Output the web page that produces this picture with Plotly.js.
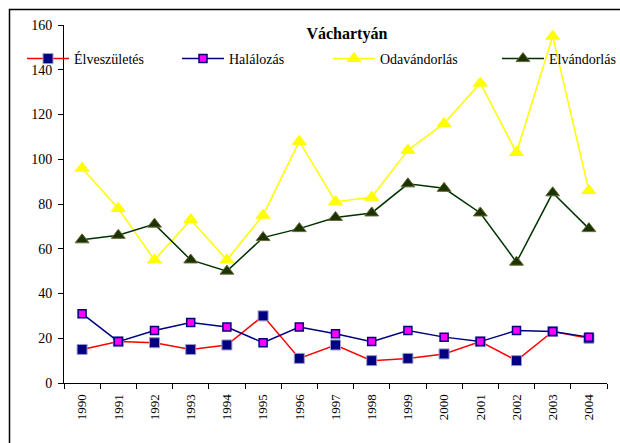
<!DOCTYPE html>
<html>
<head>
<meta charset="utf-8">
<script src="https://cdn.plot.ly/plotly-3.0.1.min.js"></script>
<style>html,body{margin:0;padding:0;background:#fff;overflow:hidden}#chart{width:620px;height:443px}</style>
</head>
<body>
<div id="chart"></div>
<script>
var years = ["1990","1991","1992","1993","1994","1995","1996","1997","1998","1999","2000","2001","2002","2003","2004"];
var elveszuletes = [15, 18.5, 18, 15, 17, 30, 11, 17, 10, 11, 13, 18.5, 10, 23, 20];
var halalozas = [31, 18.5, 23.5, 27, 25, 18, 25, 22, 18.5, 23.5, 20.5, 18.5, 23.5, 23, 20.5];
var odavandorlas = [96, 78, 55, 73, 55, 75, 108, 81, 83, 104, 116, 134, 103, 155, 86];
var elvandorlas = [64, 66, 71, 55, 50, 65, 69, 74, 76, 89, 87, 76, 54, 85, 69];
var seriesNames = ["Élveszületés", "Halálozás", "Odavándorlás", "Elvándorlás"];

var serif = "Liberation Serif";
var W = 620, H = 443, L = 64, R = 13, T = 25, B = 60;
var pw = W - L - R, ph = H - T - B;
function px2x(p){ return (p - L) / pw; }
function py2y(p){ return (H - B - p) / ph; }

var traces = [
  {x: years, y: elveszuletes, name: seriesNames[0], type: "scatter", mode: "lines+markers",
   line: {color: "#ff0000", width: 1.5},
   marker: {symbol: "square", size: 10, color: "#000080", line: {color: "#9999cc", width: 1}},
   legend: "legend"},
  {x: years, y: halalozas, name: seriesNames[1], type: "scatter", mode: "lines+markers",
   line: {color: "#000080", width: 1.5},
   marker: {symbol: "square", size: 8, color: "#ff00ff", line: {color: "#000080", width: 1.5}},
   legend: "legend2"},
  {x: years, y: odavandorlas, name: seriesNames[2], type: "scatter", mode: "lines+markers",
   line: {color: "#ffff00", width: 1.5},
   marker: {symbol: "triangle-up", size: 12, color: "#ffff00", line: {color: "#ffff00", width: 1}},
   legend: "legend3"},
  {x: years, y: elvandorlas, name: seriesNames[3], type: "scatter", mode: "lines+markers",
   line: {color: "#003300", width: 1.5},
   marker: {symbol: "triangle-up", size: 12, color: "#1a3300", line: {color: "#666633", width: 1}},
   legend: "legend4"}
];

function leg(pxLeft){
  return {x: px2x(pxLeft), xanchor: "left", y: py2y(59), yanchor: "middle",
          orientation: "h", bgcolor: "rgba(0,0,0,0)", borderwidth: 0,
          font: {family: serif, size: 14, color: "#000"}, itemwidth: 42};
}

var layout = {
  width: W, height: H,
  margin: {l: L, r: R, t: T, b: B, pad: 0, autoexpand: false},
  paper_bgcolor: "#fff", plot_bgcolor: "#fff",
  font: {family: serif, size: 13, color: "#000"},
  title: {text: "<b>Váchartyán</b>", font: {family: serif, size: 16, color: "#000"},
          x: 323 / W, xanchor: "center", xref: "paper", yref: "container", y: 1 - 33 / H, yanchor: "middle"},
  showlegend: true,
  legend: leg(22),
  legend2: leg(177),
  legend3: leg(328),
  legend4: leg(497),
  xaxis: {type: "category", range: [-0.5, 14.5], tickson: "boundaries", ticks: "outside", ticklen: 5,
          tickcolor: "#000", showline: true, linecolor: "#000", linewidth: 1, showgrid: false, zeroline: false,
          tickangle: -90, ticklabelstandoff: 5, tickfont: {family: serif, size: 13, color: "#000"}, fixedrange: true},
  yaxis: {range: [0, 160], dtick: 20, tick0: 0, ticks: "outside", ticklen: 5, tickcolor: "#000",
          showline: true, linecolor: "#000", linewidth: 1, showgrid: false, zeroline: false,
          ticklabelstandoff: 3, tickfont: {family: serif, size: 14, color: "#000"}, fixedrange: true},
  shapes: [{type: "rect", xref: "paper", yref: "paper", x0: px2x(9.5), x1: px2x(700), y0: py2y(600), y1: py2y(9.5),
            line: {color: "#000", width: 1.5}, fillcolor: "rgba(0,0,0,0)", layer: "below"}]
};

Plotly.newPlot("chart", traces, layout, {staticPlot: true, displayModeBar: false});
</script>
</body>
</html>
